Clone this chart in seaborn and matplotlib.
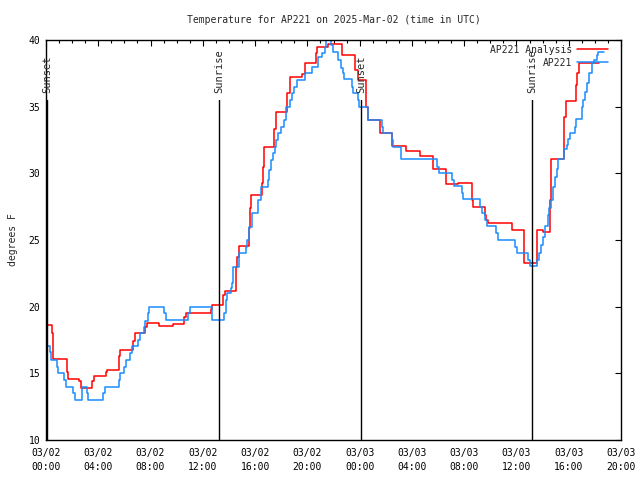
import matplotlib
matplotlib.use("Agg")
import matplotlib.pyplot as plt
import matplotlib.dates as mdates
import seaborn as sns
import pandas as pd

START = pd.Timestamp("2025-03-02 00:00")
END = pd.Timestamp("2025-03-03 20:00")

# hours after 03/02 00:00 UTC where each step starts
analysis_hours = [0.0, 0.45, 0.55, 1.58, 1.7, 2.55, 2.7, 3.55, 3.7, 4.6, 4.7, 5.6, 5.7,
                  6.63, 6.8, 7.57, 7.75, 8.67, 9.69, 10.58, 10.7, 12.6, 12.7, 13.57, 13.7,
                  14.54, 14.65, 14.75, 15.56, 15.62, 15.7, 16.55, 16.6, 16.65, 17.44, 17.6,
                  18.45, 18.7, 19.56, 19.8, 20.63, 20.75, 21.6, 22.62, 23.64, 23.85, 24.5,
                  24.62, 25.55, 26.5, 27.55, 28.65, 29.6, 30.6, 31.55, 32.57, 32.7, 33.6,
                  33.7, 33.85, 34.66, 35.63, 36.6, 37.6, 38.0, 38.56, 38.62, 39.6, 39.76,
                  40.55, 40.65, 40.8, 42.35]
analysis_temps = [18.6, 18.0, 16.1, 15.1, 14.6, 14.4, 13.9, 14.4, 14.8, 15.1, 15.25, 16.3, 16.75,
                  17.4, 18.05, 18.5, 18.75, 18.55, 18.7, 19.25, 19.5, 19.85, 20.1, 20.9, 21.2,
                  23.0, 23.75, 24.55, 25.9, 27.4, 28.35, 29.3, 30.5, 32.0, 33.3, 34.6,
                  36.0, 37.25, 37.45, 38.25, 39.0, 39.45, 39.67, 38.87, 37.75, 37.0, 35.0,
                  34.0, 33.0, 32.05, 31.67, 31.3, 30.3, 29.2, 29.3, 28.0, 27.45, 26.9,
                  26.5, 26.25, 26.3, 25.75, 23.25, 25.75, 25.6, 28.0, 31.05, 34.25, 35.4,
                  36.6, 37.5, 38.3, 38.3]

obs_hours = [0.0, 0.3, 0.4, 0.82, 0.88, 1.4, 1.5, 2.09, 2.2, 2.78, 3.1, 3.24, 4.39, 4.5,
             5.6, 5.7, 6.0, 6.1, 6.43, 6.55, 7.07, 7.2, 7.5, 7.6, 7.8, 7.9, 9.05, 9.15,
             10.9, 11.0, 12.73, 13.65, 13.77, 13.85, 14.13, 14.2, 14.33, 14.8, 15.28, 15.35,
             15.56, 15.79, 16.25, 16.45, 16.96, 17.06, 17.19, 17.34, 17.52, 17.6, 17.78,
             18.0, 18.2, 18.36, 18.67, 18.8, 19.0, 19.18, 19.82, 20.33, 20.84, 21.1, 21.35,
             21.42, 21.8, 21.93, 22.32, 22.55, 22.7, 22.8, 23.39, 23.51, 23.87, 23.95,
             24.66, 25.68, 25.76, 26.47, 26.57, 27.2, 29.94, 30.1, 31.09, 31.24, 31.8,
             31.93, 33.2, 33.38, 33.59, 33.77, 34.4, 34.61, 35.88, 36.06, 36.9, 37.03,
             37.54, 37.74, 37.88, 38.0, 38.18, 38.38, 38.5, 38.61, 38.81, 38.94, 39.07,
             39.15, 39.6, 39.84, 39.96, 40.09, 40.47, 40.55, 40.98, 41.1, 41.24, 41.42,
             41.57, 41.75, 41.95, 42.13, 42.26, 42.69]
obs_temps = [17.05, 16.6, 16.0, 15.5, 15.0, 14.5, 13.95, 13.5, 13.0, 13.95, 13.5, 13.0, 13.5, 13.95,
             14.5, 15.0, 15.5, 16.0, 16.5, 17.05, 17.5, 18.0, 18.5, 18.95, 19.5, 20.0, 19.5, 19.0,
             19.5, 20.0, 19.0, 19.5, 20.5, 21.0, 21.4, 21.75, 23.0, 24.0, 24.5, 25.0,
             26.0, 27.0, 28.0, 29.0, 29.5, 30.25, 31.0, 31.5, 32.0, 32.5, 33.0,
             33.5, 34.0, 35.0, 35.5, 36.0, 36.5, 37.0, 37.5, 38.0, 38.75, 39.0, 39.5,
             40.2, 39.6, 39.1, 38.5, 37.9, 37.5, 37.05, 36.5, 36.0, 35.5, 35.0,
             34.0, 33.5, 33.0, 32.5, 32.0, 31.05, 30.5, 30.0, 29.5, 29.05, 28.5,
             28.05, 27.5, 27.0, 26.5, 26.05, 25.5, 25.0, 24.5, 24.0, 23.5, 23.05,
             23.5, 24.0, 24.6, 25.25, 26.05, 26.9, 27.4, 28.0, 29.0, 29.75, 30.3,
             31.05, 31.8, 32.1, 32.6, 33.0, 33.5, 34.1, 35.0, 35.5, 36.1, 36.75,
             37.5, 38.25, 38.5, 38.87, 39.1, 39.1]

sun_hours = [0.1, 13.24, 24.12, 37.2]
sun_labels = ["Sunset", "Sunrise", "Sunset", "Sunrise"]


def to_time(hours):
    return START + pd.to_timedelta(hours, unit="h")


sns.set_theme(style="white")
plt.rcParams["font.family"] = ["DejaVu Sans Mono"]
plt.rcParams.update({"font.size": 7, "xtick.labelsize": 7, "ytick.labelsize": 7,
                     "axes.labelsize": 7, "axes.titlesize": 7, "legend.fontsize": 7})

df_analysis = pd.DataFrame({"time": to_time(analysis_hours), "temp": analysis_temps})
df_obs = pd.DataFrame({"time": to_time(obs_hours), "temp": obs_temps})

fig = plt.figure(figsize=(6.4, 4.8), dpi=100)
ax = fig.add_axes([46 / 640, 40 / 480, 575 / 640, 400 / 480])

sns.lineplot(data=df_analysis, x="time", y="temp", ax=ax, color="#ff0000", lw=1.1,
             drawstyle="steps-post", estimator=None, label="AP221 Analysis")
sns.lineplot(data=df_obs, x="time", y="temp", ax=ax, color="#1a8cff", lw=1.1,
             drawstyle="steps-post", estimator=None, label="AP221")

for h, lab in zip(sun_hours, sun_labels):
    t = to_time(h)
    ax.plot([t, t], [10, 35.5], color="black", lw=1)
    ax.text(t, 36.0, lab, rotation=90, ha="center", va="bottom", fontsize=7.5)

ax.set_xlim(START, END)
ax.set_ylim(10, 40)
ax.set_yticks(range(10, 41, 5))
ax.xaxis.set_major_locator(mdates.HourLocator(byhour=range(0, 24, 4)))
ax.xaxis.set_minor_locator(mdates.HourLocator())
ax.xaxis.set_major_formatter(mdates.DateFormatter("%m/%d\n%H:%M"))
for lbl in ax.get_xticklabels():
    lbl.set_linespacing(1.5)

ax.tick_params(which="both", direction="in", top=True, right=True, colors="black")
ax.tick_params(which="major", length=4, width=0.8, pad=6)
ax.tick_params(which="minor", length=2.5, width=0.8)
ax.tick_params(axis="y", pad=4)
for s in ax.spines.values():
    s.set_color("black")
    s.set_linewidth(1)

ax.set_xlabel("")
ax.set_ylabel("degrees F", labelpad=8)
ax.set_title("Temperature for AP221 on 2025-Mar-02 (time in UTC)", pad=12)

ax.legend(loc="upper right", bbox_to_anchor=(0.981, 0.993), frameon=False, markerfirst=False,
          handlelength=3.2, handletextpad=0.5, labelspacing=0.3, borderaxespad=0, borderpad=0.2)

fig.savefig("out.png", dpi=100)
